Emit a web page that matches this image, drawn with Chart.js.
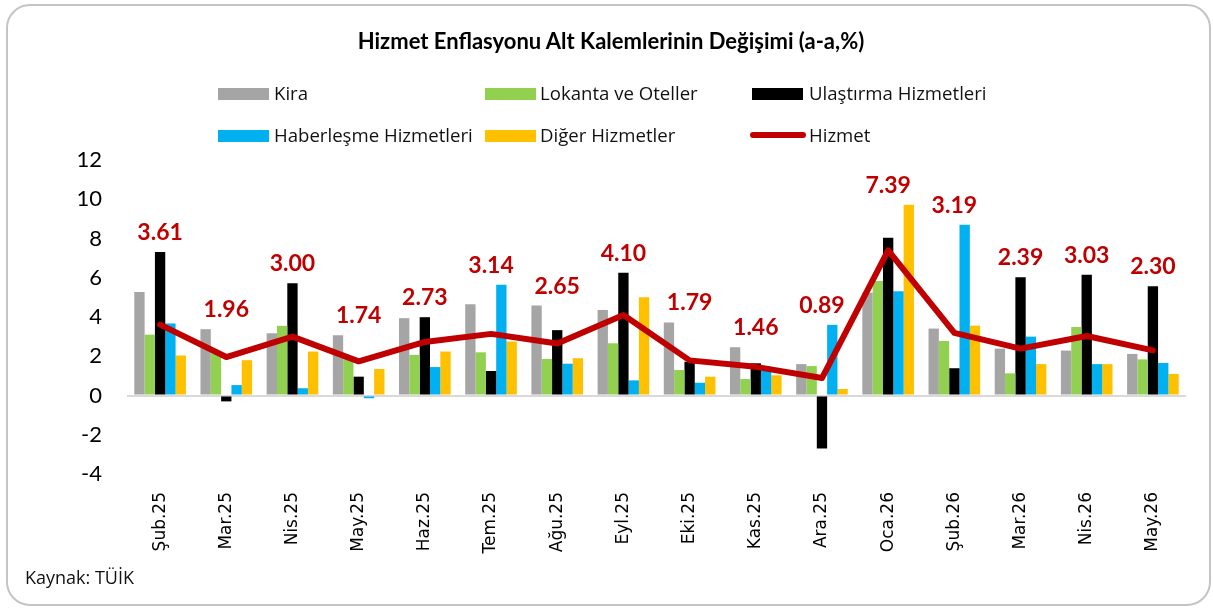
<!DOCTYPE html>
<html>
<head>
  <meta charset="UTF-8">
  <title>Hizmet Enflasyonu Alt Kalemlerinin Değişimi</title>
  <script src="https://cdn.jsdelivr.net/npm/chart.js"></script>
  <style>
    body { margin: 0; background: #fff; }
    #wrap { position: relative; width: 1213px; height: 608px; overflow: hidden; }
    #frame { position: absolute; left: 6px; top: 4px; width: 1201px; height: 598px;
      border: 2px solid #c4c4c4; border-radius: 24px; }
    #title { position: absolute; left: 0; width: 1222px; top: 27px; text-align: center;
      font: bold 22px Lato, sans-serif; color: #000; }
    .leg { position: absolute; font: 18.6px "Open Sans", sans-serif; color: #111; line-height: 24px; }
    .box { position: absolute; height: 12px; width: 51px; }
    .ln { position: absolute; height: 6px; width: 56px; border-radius: 3px; background: #c00000; }
    #src { position: absolute; left: 25px; top: 565px; font: 18px "Open Sans", sans-serif; color: #111; }
    canvas { position: absolute; left: 0; top: 0; }
  </style>
</head>
<body>
<div id="wrap">
  <div id="frame"></div>
  <canvas id="chart" width="1213" height="608"></canvas>
  <div id="title">Hizmet Enflasyonu Alt Kalemlerinin Değişimi (a-a,%)</div>

  <div class="box" style="left:218px;top:88px;background:#a5a5a5"></div>
  <div class="leg" style="left:274px;top:81px">Kira</div>
  <div class="box" style="left:485px;top:88px;background:#92d050"></div>
  <div class="leg" style="left:540px;top:81px">Lokanta ve Oteller</div>
  <div class="box" style="left:752px;top:88px;background:#000"></div>
  <div class="leg" style="left:809px;top:81px">Ulaştırma Hizmetleri</div>

  <div class="box" style="left:218px;top:130px;background:#00b0f0"></div>
  <div class="leg" style="left:274px;top:123px">Haberleşme Hizmetleri</div>
  <div class="box" style="left:485px;top:130px;background:#ffc000"></div>
  <div class="leg" style="left:540px;top:123px">Diğer Hizmetler</div>
  <div class="ln" style="left:750px;top:132px"></div>
  <div class="leg" style="left:809px;top:123px">Hizmet</div>

  <div id="src">Kaynak: TÜİK</div>
</div>

<script>
  const labels = ['Şub.25', 'Mar.25', 'Nis.25', 'May.25', 'Haz.25', 'Tem.25', 'Ağu.25', 'Eyl.25',
                  'Eki.25', 'Kas.25', 'Ara.25', 'Oca.26', 'Şub.26', 'Mar.26', 'Nis.26', 'May.26'];

  const kira       = [5.27, 3.38, 3.17, 3.07, 3.94, 4.65, 4.58, 4.36, 3.72, 2.46, 1.60, 5.24, 3.41, 2.39, 2.29, 2.12];
  const lokanta    = [3.10, 2.15, 3.55, 1.90, 2.07, 2.20, 1.86, 2.66, 1.30, 0.84, 1.50, 5.84, 2.78, 1.13, 3.49, 1.84];
  const ulastirma  = [7.31, -0.30, 5.72, 0.96, 3.99, 1.25, 3.33, 6.25, 1.72, 1.64, -2.70, 8.04, 1.39, 6.03, 6.15, 5.57];
  const haberlesme = [3.67, 0.53, 0.37, -0.14, 1.45, 5.64, 1.62, 0.77, 0.65, 1.47, 3.60, 5.31, 8.70, 3.00, 1.60, 1.66];
  const diger      = [2.04, 1.80, 2.24, 1.35, 2.24, 2.75, 1.90, 5.01, 0.96, 1.03, 0.33, 9.72, 3.56, 1.60, 1.60, 1.10];
  const hizmet     = [3.61, 1.96, 3.00, 1.74, 2.73, 3.14, 2.65, 4.10, 1.79, 1.46, 0.89, 7.39, 3.19, 2.39, 3.03, 2.30];

  const barSeries = [
    ['Kira', kira, '#a5a5a5'],
    ['Lokanta ve Oteller', lokanta, '#92d050'],
    ['Ulaştırma Hizmetleri', ulastirma, '#000000'],
    ['Haberleşme Hizmetleri', haberlesme, '#00b0f0'],
    ['Diğer Hizmetler', diger, '#ffc000']
  ];

  // red value labels above the tallest bar of each month
  const hizmetLabels = {
    id: 'hizmetLabels',
    afterDatasetsDraw(chart) {
      const ctx = chart.ctx;
      const x = chart.scales.x, y = chart.scales.y;
      ctx.save();
      ctx.font = 'bold 23px Lato, sans-serif';
      ctx.fillStyle = '#c00000';
      ctx.textAlign = 'center';
      ctx.textBaseline = 'bottom';
      hizmet.forEach((v, i) => {
        const top = Math.max(v, ...barSeries.map(s => s[1][i]));
        ctx.fillText(v.toFixed(2), x.getPixelForValue(i), y.getPixelForValue(top) - 8);
      });
      ctx.restore();
    }
  };

  const datasets = barSeries.map(s => ({
    type: 'bar', label: s[0], data: s[1], backgroundColor: s[2],
    order: 1, categoryPercentage: 0.78, barPercentage: 1.0
  }));
  datasets.push({
    type: 'line', label: 'Hizmet', data: hizmet, borderColor: '#c00000', borderWidth: 6,
    pointRadius: 0, tension: 0, borderJoinStyle: 'round', borderCapStyle: 'round', order: 0
  });

  new Chart(document.getElementById('chart'), {
    data: { labels: labels, datasets: datasets },
    plugins: [hizmetLabels],
    options: {
      responsive: false,
      animation: false,
      layout: { padding: { left: 37, right: 27, top: 160, bottom: 34 } },
      plugins: { legend: { display: false }, tooltip: { enabled: false } },
      scales: {
        x: {
          grid: { display: false },
          border: { display: false },
          ticks: { minRotation: 90, maxRotation: 90, padding: 10, color: '#000',
                   font: { family: 'DejaVu Sans', size: 17 } },
          afterFit(scale) { scale.height = 100; }
        },
        y: {
          min: -4, max: 12,
          border: { display: false },
          grid: { drawTicks: false, lineWidth: 2,
                  color: c => c.tick.value === 0 ? '#d9d9d9' : 'rgba(0,0,0,0)' },
          ticks: { stepSize: 2, padding: 25, color: '#000',
                   font: { family: 'Lato', size: 22 } },
          afterFit(scale) { scale.width = 90; }
        }
      }
    }
  });
</script>
</body>
</html>
